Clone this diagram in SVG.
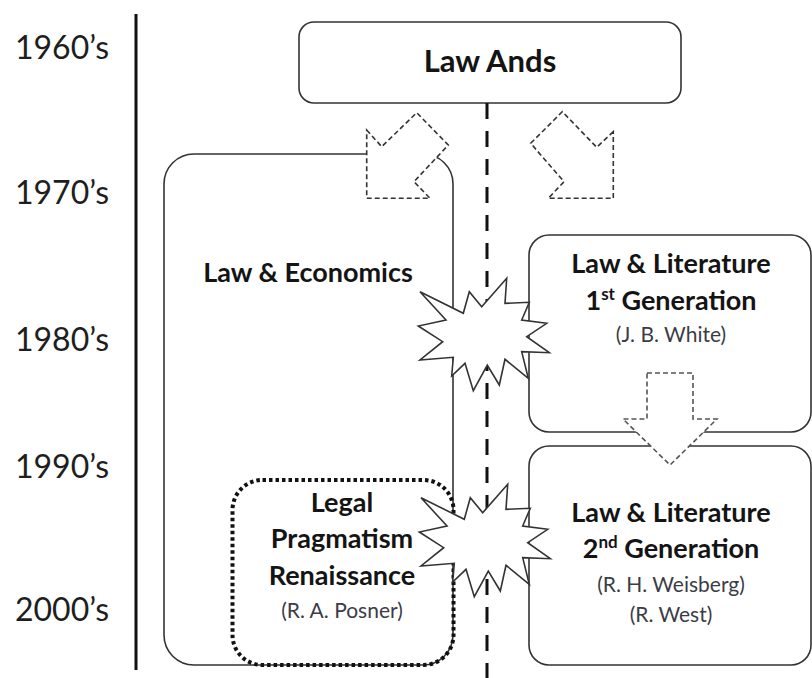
<svg xmlns="http://www.w3.org/2000/svg" width="812" height="678" viewBox="0 0 812 678">
<style>
.yr{font-family:Lato,"Open Sans","Liberation Sans",sans-serif;font-size:32px;fill:#1e1e1e}
.bt{font-family:Lato,"Open Sans","Liberation Sans",sans-serif;font-weight:bold;font-size:27px;fill:#141414;text-anchor:middle}
.nm{font-family:Lato,"Open Sans","Liberation Sans",sans-serif;font-size:21px;fill:#3c3c46;text-anchor:middle}
.box{fill:none;stroke:#333;stroke-width:1.6}
.arr{fill:#fff;stroke:#333;stroke-width:1.6;stroke-dasharray:5 3}
.boom{fill:#fff;stroke:#333;stroke-width:1.6;stroke-linejoin:miter}
</style>
<defs>
<polygon id="explosion" points="420,291.7 463.3,313.3 469.3,291.7 481.7,306.7 506.7,278.3 505,303.3 529.3,302.3 521.7,320 546.7,323.3 526.7,336.7 549.3,352.7 521.7,351.7 528.3,378.3 505,359.3 499.3,385 487.3,365 473.3,390.7 465,363.3 451.7,376 453.3,357.3 420,360 442.7,341.7 418.3,326 446,320"/>
</defs>
<rect width="812" height="678" fill="#fff"/>

<g id="timeline">
<line x1="136" y1="14" x2="136" y2="670" stroke="#111" stroke-width="3"/>
<text class="yr" x="15" y="59">1960’s</text>
<text class="yr" x="15" y="204">1970’s</text>
<text class="yr" x="15" y="351">1980’s</text>
<text class="yr" x="15" y="478">1990’s</text>
<text class="yr" x="15" y="621">2000’s</text>
</g>

<g id="law-ands">
<rect class="box" x="299" y="22" width="382" height="81" rx="15"/>
<text class="bt" x="490" y="72" style="font-size:31px">Law Ands</text>
</g>

<g id="law-economics">
<rect class="box" x="164" y="154" width="289" height="511" rx="30"/>
<text class="bt" x="308" y="282">Law &amp; Economics</text>
</g>

<g id="legal-pragmatism">
<rect x="232.5" y="480" width="221" height="185" rx="30" fill="none" stroke="#111" stroke-width="4" stroke-dasharray="3.5 3"/>
<text class="bt" x="342" y="512">Legal</text>
<text class="bt" x="342" y="548">Pragmatism</text>
<text class="bt" x="342" y="585">Renaissance</text>
<text class="nm" x="342" y="618">(R. A. Posner)</text>
</g>

<g id="law-literature-1">
<rect class="box" x="529" y="235" width="282" height="197" rx="20"/>
<text class="bt" x="671" y="273">Law &amp; Literature</text>
<text class="bt" x="671" y="310">1<tspan font-size="17" dy="-10">st</tspan><tspan dy="10"> Generation</tspan></text>
<text class="nm" x="671" y="342">(J. B. White)</text>
</g>

<g id="law-literature-2">
<rect class="box" x="529" y="446" width="282" height="219" rx="20"/>
<text class="bt" x="671" y="522">Law &amp; Literature</text>
<text class="bt" x="671" y="558">2<tspan font-size="17" dy="-10">nd</tspan><tspan dy="10"> Generation</tspan></text>
<text class="nm" x="671" y="592">(R. H. Weisberg)</text>
<text class="nm" x="671" y="622">(R. West)</text>
</g>

<g id="connectors">
<line x1="487" y1="103" x2="487" y2="678" stroke="#111" stroke-width="3" stroke-dasharray="16 12"/>
<polygon class="arr" points="366.7,130 381.7,146.7 416.7,112.7 448.3,145 414,181.7 430,198.3 366.7,198.3"/>
<polygon class="arr" points="613.3,131.7 596.7,147.3 562.3,111.7 530.7,143.3 564,181.7 548.3,198.3 613.3,198.3"/>
<polygon class="arr" points="647,373 693,373 693,419 717,419 670,465 623,419 647,419" style="stroke:#555"/>
</g>

<g id="conflict-1">
<use href="#explosion" class="boom"/>
</g>
<g id="conflict-2">
<use href="#explosion" class="boom" transform="translate(1,206)"/>
</g>
</svg>
